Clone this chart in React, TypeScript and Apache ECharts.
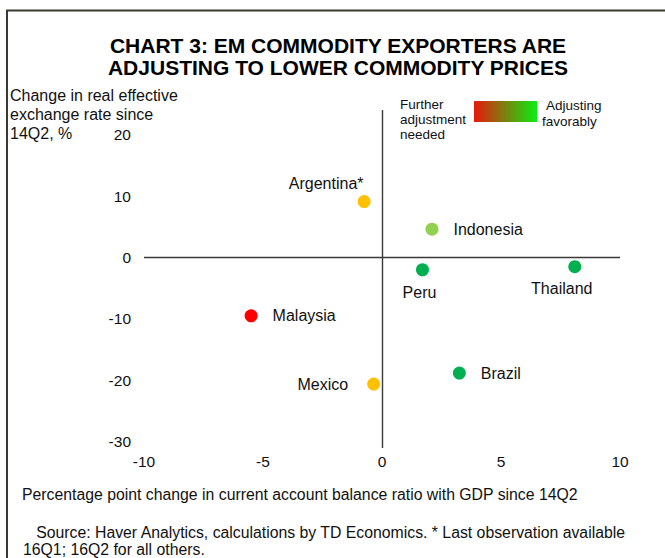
import React, { useEffect, useRef } from "react";
import * as echarts from "echarts";

const countries = ["Argentina*", "Indonesia", "Peru", "Thailand", "Malaysia", "Brazil", "Mexico"];
const currentAccountChange = [-0.75, 2.1, 1.7, 8.1, -5.5, 3.25, -0.35];
const reerChange = [9.1, 4.6, -2.0, -1.5, -9.5, -18.8, -20.6];
const yTickLabels = [-30, -20, -10, 0, 10, 20];
const xTickLabels = [-10, -5, 0, 5, 10];

const FONT = "'Liberation Sans', Arial, sans-serif";

const pointColors: Record<string, string> = {
  "Argentina*": "#ffc000",
  Indonesia: "#92d050",
  Peru: "#00b050",
  Thailand: "#00b050",
  Malaysia: "#ff0000",
  Brazil: "#00b050",
  Mexico: "#ffc000",
};

const labelStyles: Record<string, any> = {
  "Argentina*": { position: "inside", offset: [-38, -18] },
  Indonesia: { position: "right", distance: 15 },
  Peru: { position: "inside", offset: [-3, 23] },
  Thailand: { position: "inside", offset: [-13, 22] },
  Malaysia: { position: "right", distance: 15 },
  Brazil: { position: "right", distance: 15 },
  Mexico: { position: "left", distance: 19 },
};

export default function App() {
  const ref = useRef<HTMLDivElement>(null);
  useEffect(() => {
    if (!ref.current) return;
    const chart = echarts.init(ref.current, undefined, { renderer: "svg" });
    const data = countries.map((name, i) => ({
      name,
      value: [currentAccountChange[i], reerChange[i]],
      itemStyle: { color: pointColors[name], opacity: 1 },
      label: { show: true, formatter: "{b}", ...labelStyles[name] },
    }));
    chart.setOption({
      animation: false,
      backgroundColor: "#ffffff",
      textStyle: { fontFamily: FONT },
      grid: { left: 144, right: 45, top: 110, bottom: 110, containLabel: false },
      xAxis: {
        type: "value",
        min: xTickLabels[0],
        max: xTickLabels[xTickLabels.length - 1],
        interval: 5,
        axisLine: { show: false },
        axisTick: { show: false },
        splitLine: { show: false },
        axisLabel: { color: "#111", fontSize: 15.5, fontFamily: FONT, margin: 5 },
      },
      yAxis: {
        type: "value",
        min: -31,
        max: 24,
        interval: 1,
        axisLine: { show: false },
        axisTick: { show: false },
        splitLine: { show: false },
        axisLabel: {
          color: "#111",
          fontSize: 15.5,
          fontFamily: FONT,
          margin: 13,
          formatter: (v: number) => (yTickLabels.includes(v) ? String(v) : ""),
        },
      },
      series: [
        {
          type: "scatter",
          symbol: "circle",
          symbolSize: 13,
          data,
          itemStyle: { opacity: 1 },
          label: { color: "#111", fontSize: 16, fontFamily: FONT },
          emphasis: { disabled: true },
          markLine: {
            silent: true,
            symbol: "none",
            label: { show: false },
            lineStyle: { color: "#3a3a3a", width: 1.4, type: "solid" },
            data: [{ xAxis: 0 }, { yAxis: 0 }],
          },
          z: 5,
        },
      ],
      graphic: [
        {
          type: "rect",
          shape: { x: 7, y: 10.5, width: 700, height: 600 },
          style: { fill: "none", stroke: "#3a3a30", lineWidth: 2 },
          silent: true,
        },
        {
          type: "text",
          style: {
            text: "CHART 3: EM COMMODITY EXPORTERS ARE\nADJUSTING TO LOWER COMMODITY PRICES",
            x: 338,
            y: 34,
            textAlign: "center",
            textVerticalAlign: "top",
            fontFamily: FONT,
            fontSize: 21,
            fontWeight: "bold",
            lineHeight: 22,
            fill: "#000",
          },
        },
        {
          type: "text",
          style: {
            text: "Change in real effective\nexchange rate since\n14Q2, %",
            x: 10,
            y: 86,
            textAlign: "left",
            textVerticalAlign: "top",
            fontFamily: FONT,
            fontSize: 16,
            lineHeight: 19,
            fill: "#111",
          },
        },
        {
          type: "text",
          style: {
            text: "Further\nadjustment\nneeded",
            x: 400,
            y: 97,
            textAlign: "left",
            textVerticalAlign: "top",
            fontFamily: FONT,
            fontSize: 13.5,
            lineHeight: 15,
            fill: "#111",
          },
        },
        {
          type: "rect",
          shape: { x: 474, y: 101, width: 63, height: 21 },
          style: {
            fill: new echarts.graphic.LinearGradient(0, 0, 1, 0, [
              { offset: 0, color: "#e8180c" },
              { offset: 1, color: "#0aee10" },
            ]),
          },
        },
        {
          type: "text",
          style: {
            text: "Adjusting",
            x: 546,
            y: 98,
            textAlign: "left",
            textVerticalAlign: "top",
            fontFamily: FONT,
            fontSize: 13.5,
            fill: "#111",
          },
        },
        {
          type: "text",
          style: {
            text: "favorably",
            x: 542,
            y: 114,
            textAlign: "left",
            textVerticalAlign: "top",
            fontFamily: FONT,
            fontSize: 13.5,
            fill: "#111",
          },
        },
        {
          type: "text",
          style: {
            text: "Percentage point change in current account balance ratio with GDP since 14Q2",
            x: 22,
            y: 494,
            textAlign: "left",
            textVerticalAlign: "middle",
            fontFamily: FONT,
            fontSize: 15.8,
            fill: "#111",
          },
        },
        {
          type: "text",
          style: {
            text: "   Source: Haver Analytics, calculations by TD Economics. * Last observation available\n16Q1; 16Q2 for all others.",
            x: 23,
            y: 524.5,
            textAlign: "left",
            textVerticalAlign: "top",
            fontFamily: FONT,
            fontSize: 15.8,
            lineHeight: 16.5,
            fill: "#111",
          },
        },
      ],
    });
    return () => chart.dispose();
  }, []);
  return (
    <div
      ref={ref}
      style={{ position: "fixed", left: 0, top: 0, width: 665, height: 558, background: "#fff" }}
    />
  );
}
